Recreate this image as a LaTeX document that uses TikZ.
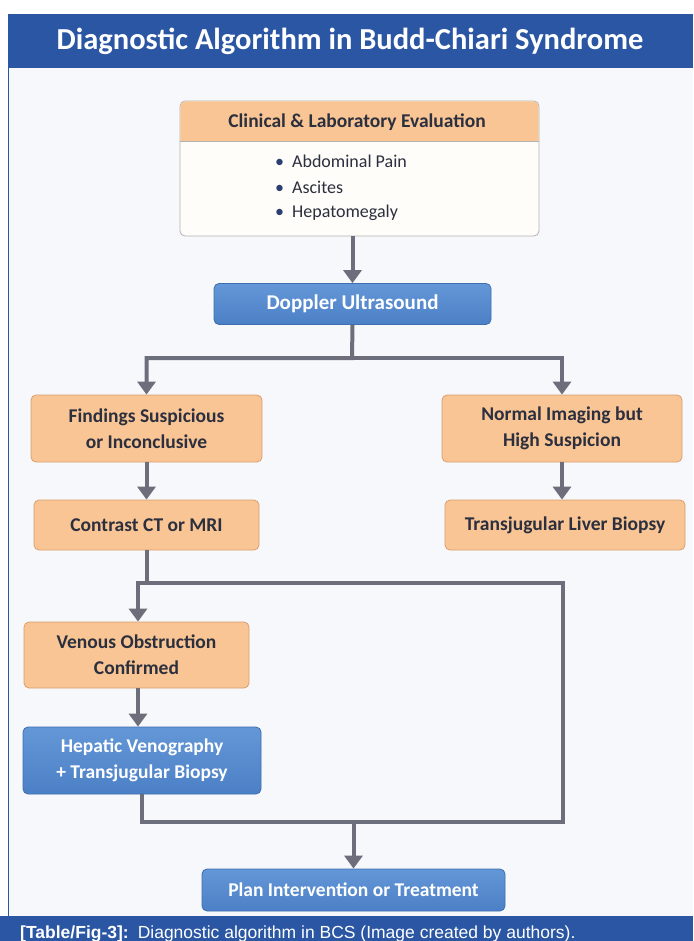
\documentclass[tikz,border=0pt]{standalone}
\usepackage{fontspec}
\setmainfont{Carlito}
\newfontfamily\capfont{Liberation Sans}
\usetikzlibrary{arrows.meta}

\definecolor{bandblue}{HTML}{2A56A3}
\definecolor{pagebg}{HTML}{F7F8FB}
\definecolor{boxorange}{HTML}{F9C594}
\definecolor{orangeline}{HTML}{D9A06C}
\definecolor{bodyfill}{HTML}{FFFDF9}
\definecolor{bodyline}{HTML}{B4B2AE}
\definecolor{bluetop}{HTML}{6497D7}
\definecolor{bluebot}{HTML}{4C80C6}
\definecolor{blueline}{HTML}{3E6DB0}
\definecolor{inktext}{HTML}{2B2F3E}
\definecolor{arrowgray}{HTML}{6C6F7B}
\definecolor{bulletnavy}{HTML}{2B3F73}

\newcommand{\boxfont}{\bfseries\fontsize{19.5}{26}\selectfont}

\begin{document}
\begin{tikzpicture}
    [
    x=1pt, y=-1pt,
    orangebox/.style={rectangle, rounded corners=5pt, draw=orangeline, line width=0.8pt, fill=boxorange, text=inktext, font=\boxfont, align=center},
    bluebox/.style={rectangle, rounded corners=5pt, draw=blueline, line width=0.8pt, top color=bluetop, bottom color=bluebot, text=white, font=\boxfont, align=center},
    itemtext/.style={anchor=west, text=inktext, font=\fontsize{18}{20}\selectfont, inner sep=0pt},
    link/.style={draw=arrowgray, line width=4pt},
    flow/.style={link, -{Triangle[length=13pt,width=18pt]}},
    ]
    \useasboundingbox (0,0) rectangle (693,941);
    % frame, title and caption bands
    \fill[white] (0,0) rectangle (693,941);
    \fill[pagebg] (8,68) rectangle (693,916);
    \draw[bandblue, line width=1pt] (8.5,68) -- (8.5,916);
    \fill[bandblue] (8,14) rectangle (693,68);
    \fill[bandblue] (0,916) rectangle (693,941);
    \node[text=white, font=\bfseries\fontsize{30.5}{34}\selectfont] (title) at (350,41) {Diagnostic Algorithm in Budd-Chiari Syndrome};
    \node[anchor=base west, text=white, font=\capfont\fontsize{17.5}{20}\selectfont, inner sep=0pt] (caption) at (20,938)
        {\textbf{[Table/Fig-3]:}\hspace{9pt}Diagnostic algorithm in BCS (Image created by authors).};

    % clinical evaluation box
    \node[rectangle, rounded corners=5pt, draw=bodyline, line width=0.8pt, fill=bodyfill, minimum width=359pt, minimum height=135pt] (clin) at (359.5,168.5) {};
    \fill[boxorange, rounded corners=5pt] (180.4,141) -- (180.4,101.4) -- (538.6,101.4) -- (538.6,141);
    \draw[bodyline, line width=0.8pt] (180,141) -- (539,141);
    \node[text=inktext, font=\boxfont] (clinhead) at (357,122) {Clinical \& Laboratory Evaluation};
    \foreach \txt [count=\i] in {Abdominal Pain, Ascites, Hepatomegaly}
        \node[itemtext] (item\i) at (275,136+25.5*\i) {\textcolor{bulletnavy}{\textbullet}\hspace{8pt}\txt};

    % main boxes
    \node[bluebox, minimum width=277pt, minimum height=41pt, font=\bfseries\fontsize{21}{24}\selectfont] (dopp) at (352.5,304) {Doppler Ultrasound};
    \node[orangebox, minimum width=231pt, minimum height=67pt] (find) at (146.5,428.5) {Findings Suspicious\\or Inconclusive};
    \node[orangebox, minimum width=240pt, minimum height=67pt] (norm) at (562,428.5) {Normal Imaging but\\High Suspicion};
    \node[orangebox, minimum width=225pt, minimum height=50pt] (ct) at (146.5,525) {Contrast CT or MRI};
    \node[orangebox, minimum width=240pt, minimum height=50pt] (tlb) at (565,525) {Transjugular Liver Biopsy};
    \node[orangebox, minimum width=225pt, minimum height=66pt] (ven) at (136.5,655) {Venous Obstruction\\Confirmed};
    \node[bluebox, minimum width=238pt, minimum height=67pt] (hep) at (142,760.5) {Hepatic Venography\\+ Transjugular Biopsy};
    \node[bluebox, minimum width=303pt, minimum height=42pt] (plan) at (353.5,890) {Plan Intervention or Treatment};

    % connectors
    \coordinate (split) at (352,358);
    \coordinate (loopR) at (563,583);
    \coordinate (loopB) at (563,822);
    \draw[flow] (dopp.north |- clin.south) -- (dopp.north);
    \draw[flow] (dopp.south) -- (split) -| (find.north);
    \draw[flow] (split) -| (norm.north);
    \draw[flow] (find.south) -- (ct.north);
    \draw[flow] (norm.south) -- (norm.south |- tlb.north);
    \draw[flow] (ct.south) -- (ct.south |- loopR) -| ([xshift=1.5pt]ven.north);
    \draw[link] (ct.south |- loopR) -- (loopR) -- (loopB) -- (hep.south |- loopB) -- (hep.south);
    \draw[flow] ([xshift=1.5pt]ven.south) -- ([xshift=1.5pt]ven.south |- hep.north);
    \draw[flow] (plan.north |- loopB) -- (plan.north);
\end{tikzpicture}
\end{document}
